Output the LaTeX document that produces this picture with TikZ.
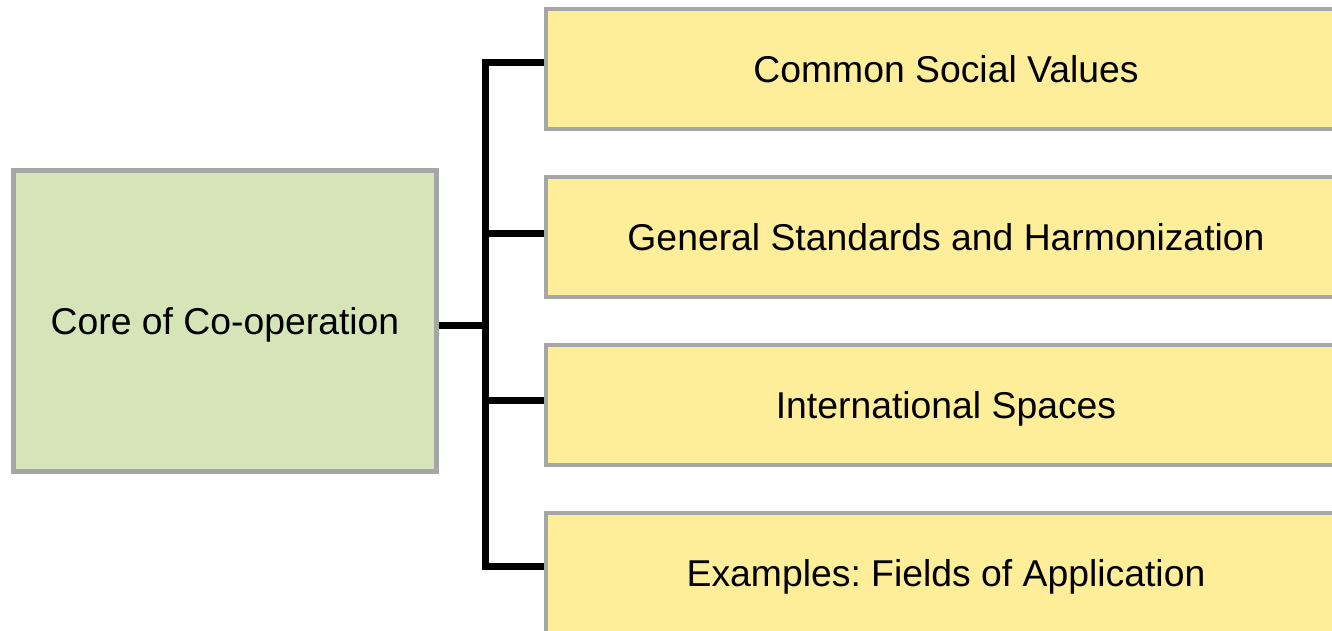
\documentclass[tikz,border=0pt]{standalone}
\usepackage{fontspec}
\setmainfont{Liberation Sans}
\frenchspacing
\definecolor{coregreen}{HTML}{D5E5B8}
\definecolor{itemyellow}{HTML}{FFEE99}
\definecolor{boxgray}{HTML}{A6A6A6}
\begin{document}
\begin{tikzpicture}[x=0.75pt,y=-0.75pt,
  box/.style={draw=boxgray,line width=3.4pt,rectangle,inner sep=0pt,text height=20pt,text depth=0pt,font=\fontsize{28}{33}\selectfont},
  core/.style={box,fill=coregreen,minimum width=317pt,minimum height=226pt},
  item/.style={box,fill=itemyellow,minimum width=600pt,minimum height=90pt},
  link/.style={line width=5.25pt}]
  \path[use as bounding box] (0,0) rectangle (1332,631);
  \clip (0,0) rectangle (1332,631);
  \node[core] (core) at (225,321) {Core of Co-operation};
  \node[item] (c1) at (946,69) {Common Social Values};
  \node[item] (c2) at (946,237) {General Standards and Harmonization};
  \node[item] (c3) at (946,405) {International Spaces};
  \node[item] (c4) at (946,573) {Examples: Fields of Application};
  \coordinate (bus) at (485,0);
  \draw[link] ([yshift=4.5pt]c1.west) -| ([yshift=5pt]c4.west -| bus) -- ([yshift=5pt]c4.west);
  \draw[link] ([yshift=-3pt]core.east) -- ([yshift=-3pt]core.east -| bus);
  \draw[link] ([yshift=2.5pt]c2.west) -- ([yshift=2.5pt]c2.west -| bus);
  \draw[link] ([yshift=3.5pt]c3.west) -- ([yshift=3.5pt]c3.west -| bus);
\end{tikzpicture}
\end{document}
